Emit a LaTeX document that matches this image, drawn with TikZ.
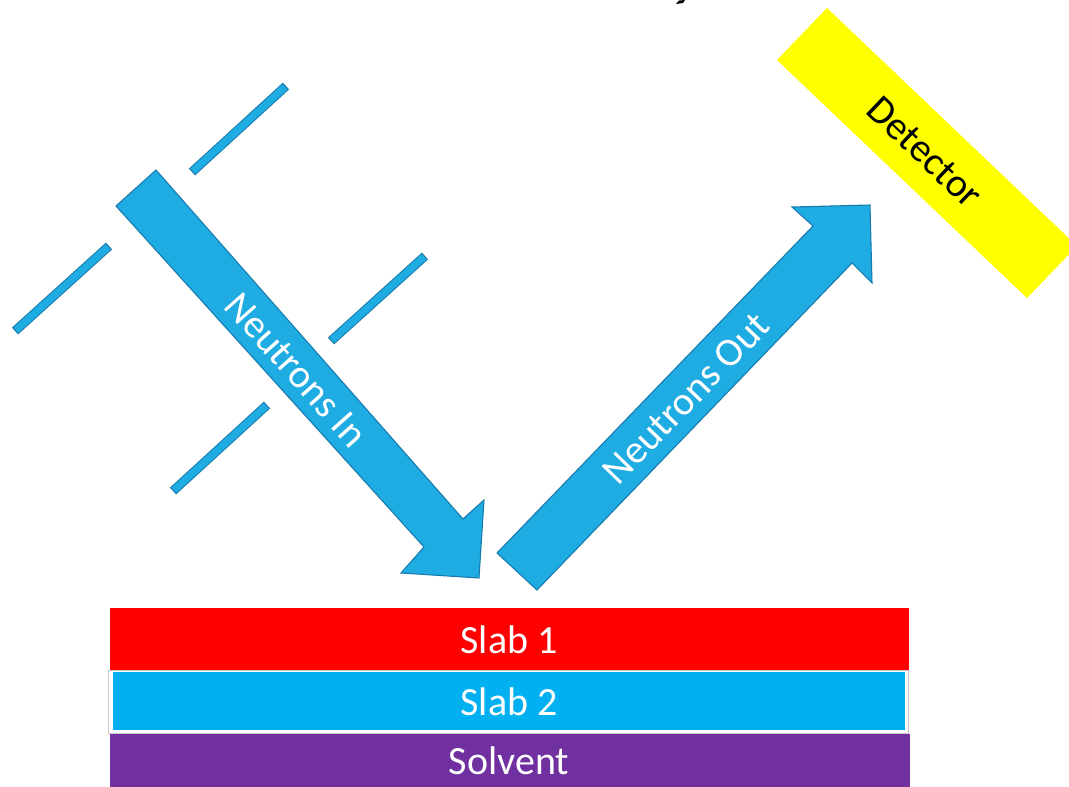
\documentclass[tikz,border=0pt]{standalone}
\usepackage{fontspec}
\setmainfont{Carlito}
\definecolor{beamfill}{RGB}{30,172,226}
\definecolor{beamedge}{RGB}{24,122,172}
\definecolor{slabred}{RGB}{255,0,0}
\definecolor{slabcyan}{RGB}{0,176,240}
\definecolor{solvpurple}{RGB}{112,48,160}
\definecolor{detyellow}{RGB}{255,255,0}
\definecolor{rimgray}{RGB}{200,200,205}
\tikzset{
  beam/.style={fill=beamfill, draw=beamedge, line width=0.8pt, line join=miter},
  slitedge/.style={draw=beamedge, line width=6.9pt, line cap=butt},
  slitcore/.style={draw=beamfill, line width=5.4pt, line cap=butt, shorten <=0.9pt, shorten >=0.9pt},
  lbl/.style={inner sep=0pt, font=\fontsize{30}{36}\selectfont},
}
\begin{document}
\begin{tikzpicture}[x=0.75pt, y=-0.75pt]
\useasboundingbox (0,0) rectangle (1069,786);
\clip (0,0) rectangle (1069,786);

% collimating slits
\foreach \ax/\ay/\bx/\by in {192/172/286/86, 15/331/109/246, 331/341/425/256, 173/491/267/405}{
  \draw[slitedge] (\ax,\ay) -- (\bx,\by);
  \draw[slitcore] (\ax,\ay) -- (\bx,\by);
}

% incoming beam
\draw[beam] (156,170) -- (463,519) -- (484,500) -- (479,578) -- (401,573)
  -- (424,547) -- (116,206) -- cycle;
\node[lbl, text=white, rotate=-48.3] (nin) at (296,370) {Neutrons In};

% reflected beam
\draw[beam] (537,590) -- (852,263) -- (872,283) -- (870,205) -- (792,207)
  -- (813,226) -- (497,553) -- cycle;
\node[lbl, text=white, rotate=46] (nout) at (686,398) {Neutrons Out};

% detector
\fill[detyellow] (827,8) -- (1077,246) -- (1027,298) -- (777,60) -- cycle;
\node[lbl, text=black, rotate=-43.6] (det) at (925,152) {Detector};

% sample layers
\fill[slabred] (110,608) rectangle (909,671);
\node[lbl, text=white] (s1) at (509,640) {Slab 1};
\filldraw[fill=white, draw=rimgray, line width=0.6pt] (108.5,670.5) rectangle (908.5,733);
\fill[slabcyan] (113,672) rectangle (905,730);
\node[lbl, text=white] (s2) at (509,702) {Slab 2};
\fill[solvpurple] (110,734) rectangle (910,790);
\node[lbl, text=white] (solv) at (509,761) {Solvent};

% tail of the heading above
\fill[black] (676,4) -- (679,0.5) -- (685,0) -- (683,3) -- cycle;
\end{tikzpicture}
\end{document}
